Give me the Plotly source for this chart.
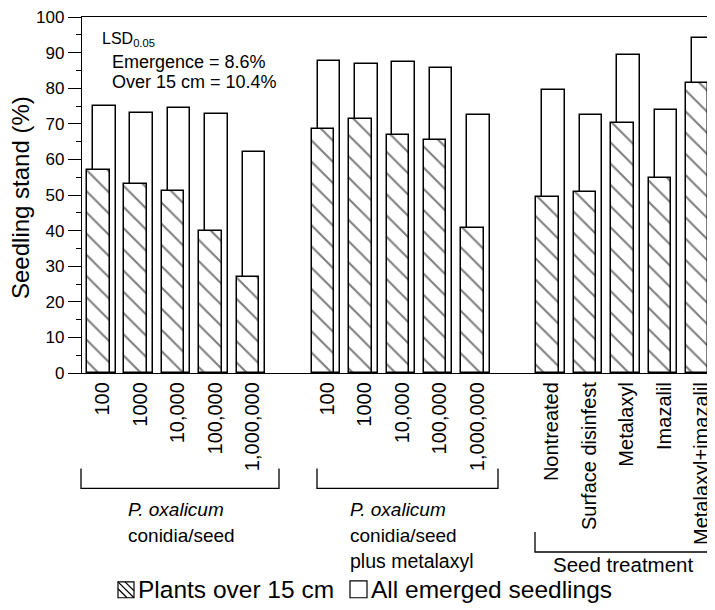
import plotly.graph_objects as go

# ---------------- data ----------------
g1_labels = ["100", "1000", "10,000", "100,000", "1,000,000"]
g2_labels = ["100", "1000", "10,000", "100,000", "1,000,000"]
g3_labels = ["Nontreated", "Surface disinfest", "Metalaxyl", "Imazalil", "Metalaxyl+imazalil"]

emerged_g1 = [74.9, 73.0, 74.4, 72.8, 62.1]
over15_g1 = [57.0, 53.1, 51.2, 39.9, 27.0]
emerged_g2 = [87.6, 86.7, 87.3, 85.6, 72.5]
over15_g2 = [68.6, 71.3, 66.9, 65.4, 40.7]
emerged_g3 = [79.4, 72.4, 89.4, 73.8, 94.2]
over15_g3 = [49.4, 50.9, 70.2, 54.7, 81.6]

y_ticks = [0, 10, 20, 30, 40, 50, 60, 70, 80, 90, 100]

# ---------------- positions ----------------
labels = g1_labels + g2_labels + g3_labels
emerged = emerged_g1 + emerged_g2 + emerged_g3
over15 = over15_g1 + over15_g2 + over15_g3
slots = []
for gi, grp in enumerate([g1_labels, g2_labels, g3_labels]):
    for i in range(len(grp)):
        slots.append(gi * 6 + i)

BAR_W = 0.6
SHIFT = 0.16
FONT = "Liberation Sans, Arial, Helvetica, sans-serif"

fig = go.Figure()
fig.add_trace(go.Bar(
    x=[s + SHIFT for s in slots], y=emerged, width=BAR_W,
    name="All emerged seedlings", showlegend=False,
    marker=dict(color="white", line=dict(color="black", width=1.5)),
    hoverinfo="y",
))
fig.add_trace(go.Bar(
    x=slots, y=over15, width=BAR_W,
    name="Plants over 15 cm", showlegend=False,
    marker=dict(color="white", line=dict(color="black", width=1.5),
                pattern=dict(shape="\\", fgcolor="black", bgcolor="white",
                             size=15, solidity=0.14)),
    hoverinfo="y",
))

# ---------------- layout geometry (page pixels; page body has an 8px margin) ----------------
OFF = 8
W, H = 715 - OFF, 610 - OFF
PL, PR, PT, PB = 82, 715, 15, 373


def px(x):
    return (x - PL) / (PR - PL)


def py(y):
    return (PB - y) / (PB - PT)


shapes = []
annotations = []

# group brackets
for (x0, x1, ytop, ybot) in [(81, 279, 469, 489), (317, 498, 469, 489), (535, 713, 533, 553)]:
    shapes.append(dict(type="path", xref="paper", yref="paper",
                       path=f"M {px(x0)},{py(ytop)} L {px(x0)},{py(ybot)} L {px(x1)},{py(ybot)} L {px(x1)},{py(ytop)}",
                       line=dict(color="black", width=1.3)))


def text(x, y, t, size, anchor="left", italic=False, angle=0):
    annotations.append(dict(xref="paper", yref="paper", x=px(x), y=py(y), text=t,
                            showarrow=False, xanchor=anchor, yanchor="middle",
                            textangle=angle,
                            font=dict(family=FONT, size=size, color="black",
                                      style="italic" if italic else "normal")))


# group labels
text(126, 510, "P. oxalicum", 19, italic=True)
text(126, 536, "conidia/seed", 19)
text(348, 510, "P. oxalicum", 19, italic=True)
text(348, 536, "conidia/seed", 19)
text(348, 562, "plus metalaxyl", 19.5)
text(551, 566, "Seed treatment", 20.5)

# LSD annotation
text(100, 38, "LSD<sub>0.05</sub>", 16)
text(110, 60, "Emergence = 8.6%", 18)
text(110, 80, "Over 15 cm = 10.4%", 18)

# y-axis title
text(21, 197, "Seedling stand (%)", 24, anchor="center", angle=-90)

# legend (manual)
lx0, ly0, s = 118, 583, 16
shapes.append(dict(type="rect", xref="paper", yref="paper", x0=px(lx0), x1=px(lx0 + s),
                   y0=py(ly0 + s), y1=py(ly0), line=dict(color="black", width=1.2),
                   fillcolor="white"))
for a, b, c, d in [(lx0, ly0, lx0 + s, ly0 + s), (lx0 + 7, ly0, lx0 + s, ly0 + s - 7),
                   (lx0, ly0 + 7, lx0 + s - 7, ly0 + s)]:
    shapes.append(dict(type="line", xref="paper", yref="paper", x0=px(a), y0=py(b),
                       x1=px(c), y1=py(d), line=dict(color="black", width=1.2)))
text(136, 591, "Plants over 15 cm", 24.5)
lx1 = 350
shapes.append(dict(type="rect", xref="paper", yref="paper", x0=px(lx1), x1=px(lx1 + 17),
                   y0=py(ly0 + s), y1=py(ly0 - 1), line=dict(color="black", width=1.2),
                   fillcolor="white"))
text(369, 591, "All emerged seedlings", 24.5)

fig.update_layout(
    width=W, height=H,
    margin=dict(l=PL - OFF, r=715 - PR, t=PT - OFF, b=610 - PB, pad=0),
    paper_bgcolor="white", plot_bgcolor="white",
    barmode="overlay", bargap=0,
    showlegend=False,
    font=dict(family=FONT, color="black"),
    xaxis=dict(
        range=[-0.435, 16.476],
        tickmode="array", tickvals=[s + 0.12 for s in slots], ticktext=labels,
        tickangle=-90, ticks="", tickfont=dict(size=20, family=FONT),
        showline=True, linecolor="black", linewidth=1.3, mirror=True,
        showgrid=False, zeroline=False, ticklabelstandoff=0,
        ticklabeloverflow="allow",
    ),
    yaxis=dict(
        range=[0, 100], tickmode="array", tickvals=y_ticks,
        ticks="outside", ticklen=13, tickwidth=1.2, tickcolor="black",
        tickfont=dict(size=17, family=FONT), ticklabeloverflow="allow",
        minor=dict(dtick=5, ticks="outside", ticklen=5, tickwidth=1, tickcolor="black", showgrid=False),
        showline=True, linecolor="black", linewidth=1.3,
        showgrid=False, zeroline=False,
    ),
    shapes=shapes, annotations=annotations,
)

fig.write_html("out.html")
